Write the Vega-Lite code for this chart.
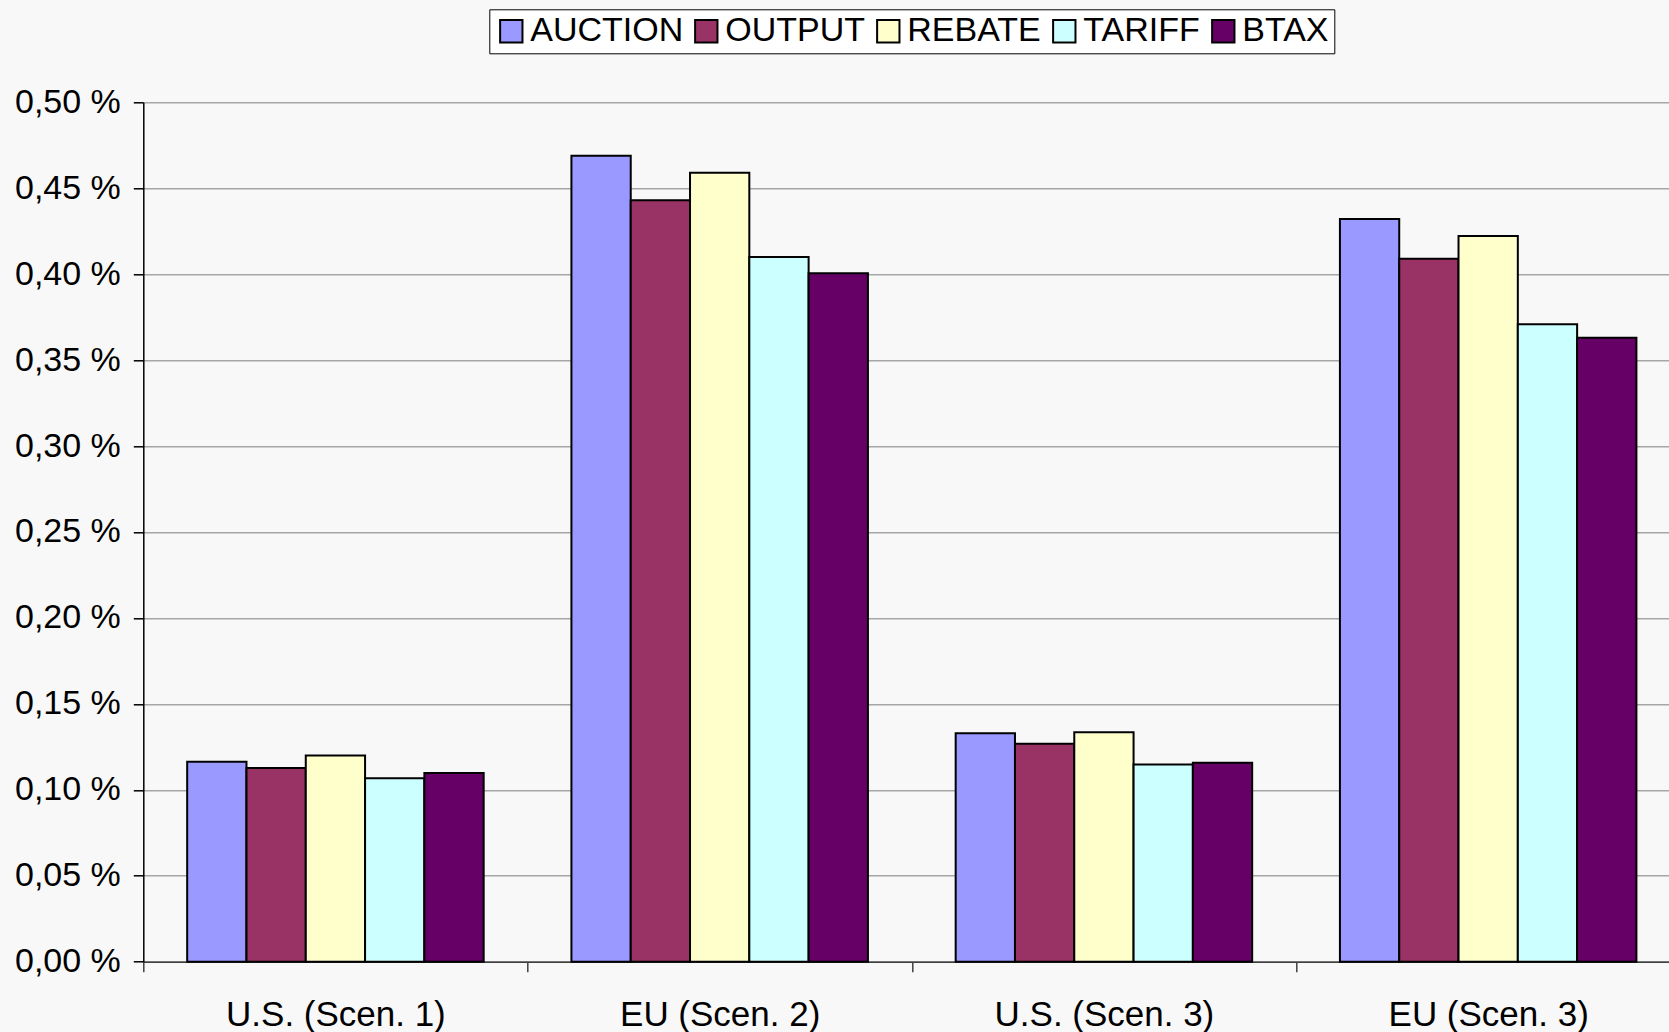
{
  "$schema": "https://vega.github.io/schema/vega-lite/v6.json",
  "width": 1526,
  "height": 859.4,
  "autosize": {"type": "none"},
  "padding": {"left": 143.3, "top": 102.3, "right": 0, "bottom": 70.3},
  "background": "#f8f8f8",
  "config": {"view": {"stroke": null, "fill": "#f8f8f8"}, "font": "Liberation Sans"},
  "data": {"values": [
    {"region": "U.S. (Scen. 1)", "policy": "AUCTION", "value": 0.1164},
    {"region": "U.S. (Scen. 1)", "policy": "OUTPUT", "value": 0.1127},
    {"region": "U.S. (Scen. 1)", "policy": "REBATE", "value": 0.1199},
    {"region": "U.S. (Scen. 1)", "policy": "TARIFF", "value": 0.1067},
    {"region": "U.S. (Scen. 1)", "policy": "BTAX", "value": 0.1098},
    {"region": "EU (Scen. 2)", "policy": "AUCTION", "value": 0.4689},
    {"region": "EU (Scen. 2)", "policy": "OUTPUT", "value": 0.4430},
    {"region": "EU (Scen. 2)", "policy": "REBATE", "value": 0.4590},
    {"region": "EU (Scen. 2)", "policy": "TARIFF", "value": 0.4100},
    {"region": "EU (Scen. 2)", "policy": "BTAX", "value": 0.4005},
    {"region": "U.S. (Scen. 3)", "policy": "AUCTION", "value": 0.1329},
    {"region": "U.S. (Scen. 3)", "policy": "OUTPUT", "value": 0.1268},
    {"region": "U.S. (Scen. 3)", "policy": "REBATE", "value": 0.1335},
    {"region": "U.S. (Scen. 3)", "policy": "TARIFF", "value": 0.1148},
    {"region": "U.S. (Scen. 3)", "policy": "BTAX", "value": 0.1158},
    {"region": "EU (Scen. 3)", "policy": "AUCTION", "value": 0.4321},
    {"region": "EU (Scen. 3)", "policy": "OUTPUT", "value": 0.4090},
    {"region": "EU (Scen. 3)", "policy": "REBATE", "value": 0.4222},
    {"region": "EU (Scen. 3)", "policy": "TARIFF", "value": 0.3708},
    {"region": "EU (Scen. 3)", "policy": "BTAX", "value": 0.3630}
  ]},
  "mark": {"type": "bar", "stroke": "#000000", "strokeWidth": 2},
  "encoding": {
    "x": {
      "field": "region", "type": "nominal",
      "sort": ["U.S. (Scen. 1)", "EU (Scen. 2)", "U.S. (Scen. 3)", "EU (Scen. 3)"],
      "scale": {"range": [0, 1537], "paddingInner": 0, "paddingOuter": 0},
      "axis": {"title": null, "labelAngle": 0, "labelFontSize": 35, "labelColor": "#000000", "labelLimit": 0,
               "tickBand": "extent", "tickSize": 10, "tickColor": "#404040", "tickWidth": 1.5,
               "domainColor": "#404040", "domainWidth": 1.5, "labelPadding": 26, "grid": false}
    },
    "xOffset": {
      "field": "policy", "type": "nominal",
      "sort": ["AUCTION", "OUTPUT", "REBATE", "TARIFF", "BTAX"],
      "scale": {"paddingInner": 0, "paddingOuter": 0.74}
    },
    "y": {
      "field": "value", "type": "quantitative",
      "scale": {"domain": [0, 0.5]},
      "axis": {"title": null, "values": [0, 0.05, 0.1, 0.15, 0.2, 0.25, 0.3, 0.35, 0.4, 0.45, 0.5],
               "labelExpr": "replace(format(datum.value, '.2f'), '.', ',') + ' %'",
               "labelFontSize": 34, "labelColor": "#000000", "tickSize": 10, "tickColor": "#000000",
               "tickWidth": 1.5, "domainColor": "#000000", "domainWidth": 1.5,
               "gridColor": "#a6a6a6", "gridWidth": 1.5, "labelPadding": 13}
    },
    "color": {
      "field": "policy", "type": "nominal",
      "sort": ["AUCTION", "OUTPUT", "REBATE", "TARIFF", "BTAX"],
      "scale": {"domain": ["AUCTION", "OUTPUT", "REBATE", "TARIFF", "BTAX"],
                "range": ["#9999ff", "#993366", "#ffffcc", "#ccffff", "#660066"]},
      "legend": {"title": null, "orient": "none", "legendX": 346, "legendY": -93,
                 "direction": "horizontal", "symbolType": "square", "symbolSize": 500,
                 "symbolStrokeColor": "#000000", "symbolStrokeWidth": 2, "symbolOpacity": 1,
                 "labelFontSize": 34, "labelColor": "#000000", "labelOffset": 2, "labelLimit": 0,
                 "columnPadding": 6, "fillColor": "#ffffff", "strokeColor": "#000000",
                 "padding": 5}
    }
  }
}
